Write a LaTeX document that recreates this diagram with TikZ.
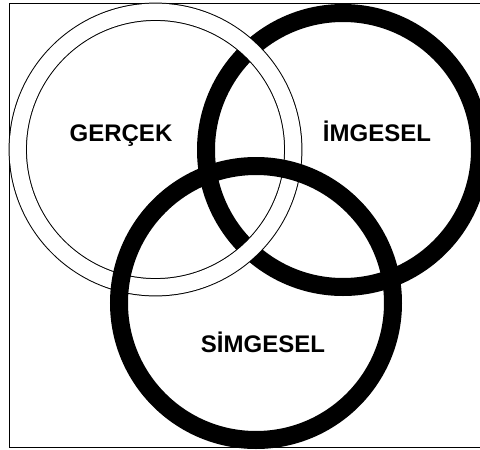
\documentclass[tikz,border=0pt]{standalone}
\usepackage{fontspec}
\setmainfont{Liberation Sans}
\begin{document}
\begin{tikzpicture}[x=1pt,y=-1pt,
  blackring/.style={draw=black,line width=18pt},
  ringlabel/.style={font=\bfseries\fontsize{24}{28}\selectfont,inner sep=0pt,anchor=base}]
\useasboundingbox (0,0) rectangle (480,450);
\fill[white] (0,0) rectangle (480,450);
% frame
\draw[line width=1pt] (481,3.5) -- (9.5,3.5) -- (9.5,447.5) -- (481,447.5);
% IMGESEL (bottom layer)
\draw[blackring] (343,150) circle[radius=137];
% GERCEK (white ring with thin outlines)
\draw[draw=black,line width=18.3pt] (155.5,149.5) circle[radius=137.75];
\draw[draw=white,line width=16.3pt] (155.5,149.5) circle[radius=137.75];
% SIMGESEL (top layer)
\draw[blackring] (256,303) circle[radius=137];
% labels
\node[ringlabel] (gercek) at (121,141.5) {GERÇEK};
\node[ringlabel] (imgesel) at (377,141.5) {İMGESEL};
\node[ringlabel] (simgesel) at (263,352.5) {SİMGESEL};
\end{tikzpicture}
\end{document}
